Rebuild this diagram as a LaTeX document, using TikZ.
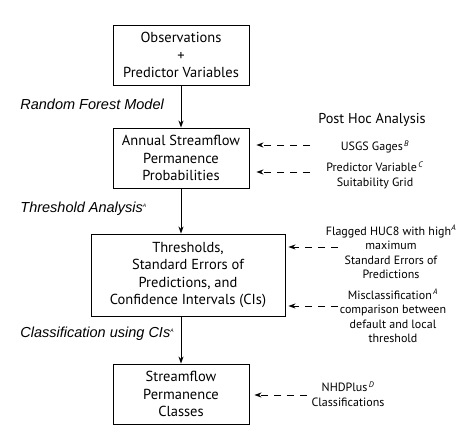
\documentclass[tikz,border=0pt]{standalone}
\usepackage{fontspec}
\setmainfont{PT Sans}
\newfontfamily\labelfont{Liberation Sans}
\usetikzlibrary{arrows.meta}
\newcommand{\supmark}[1]{\textsuperscript{\,\textit{#1}}}

\begin{document}
\begin{tikzpicture}
[ x=1pt, y=-1pt, thick
, stepbox/.style={rectangle, draw, line width=0.9pt, align=center, font=\fontsize{14.5}{17.6}\selectfont, inner sep=0pt}
, method/.style={anchor=west, font=\labelfont\itshape\fontsize{14.5}{16}\selectfont, inner sep=0pt}
, note/.style={align=center, font=\fontsize{12}{14.5}\selectfont, inner sep=0pt}
, flow/.style={-{Stealth[length=7pt,width=5pt]}, line width=0.9pt}
, check/.style={-{Stealth[length=7pt,width=5pt]}, line width=0.8pt, dash pattern=on 7pt off 6pt}
]
\useasboundingbox (0,0) rectangle (471,434);
% Main chain of boxes
\node (obs) [stepbox, minimum width=136pt, minimum height=60pt] at (181,55) {Observations\\+\\Predictor Variables};
\node (prob) [stepbox, minimum width=136pt, minimum height=60pt] at (181,158) {Annual Streamflow\\Permanence\\Probabilities};
\node (thr) [stepbox, minimum width=194pt, minimum height=82pt] at (188,275) {Thresholds,\\Standard Errors of\\Predictions, and\\Confidence Intervals (CIs)};
\node (cls) [stepbox, minimum width=136pt, minimum height=60pt] at (181,394) {Streamflow\\Permanence\\Classes};
% Method labels
\node (rfm) [method] at (20,104) {Random Forest Model};
\node (tha) [method] at (20,209) {Threshold Analysis\textsuperscript{\tiny A}};
\node (cci) [method] at (20,334) {Classification using CIs\textsuperscript{\tiny A}};
% Post hoc notes
\node (post) [note, font=\fontsize{14.3}{16}\selectfont] at (372,120) {Post Hoc Analysis};
\node (usgs) [note] at (375,147) {USGS Gages\supmark{B}};
\node (grid) [note] at (375,175) {Predictor Variable\supmark{C}\\Suitability Grid};
\node (huc) [note] at (391,252) {Flagged HUC8 with high\textsuperscript{\textit{A}}\\maximum\\Standard Errors of\\Predictions};
\node (mis) [note] at (393,316) {Misclassification\supmark{A}\\comparison between\\default and local\\threshold};
\node (nhd) [note] at (348,394) {NHDPlus\supmark{D}\\Classifications};
% free ends of the dashed connectors
\coordinate (usgs-e) at (310,145);
\coordinate (grid-e) at (310,172);
\coordinate (huc-e) at (338,247);
\coordinate (mis-e) at (338,306);
\coordinate (nhd-e) at (307,395);
\draw [flow] (obs) -- (prob);
\draw [flow] (prob) -- (prob |- thr.north);
\draw [flow] (prob |- thr.south) -- (cls);
\draw [check] (usgs-e) -- ([xshift=7pt]usgs-e -| prob.east);
\draw [check] (grid-e) -- ([xshift=7pt]grid-e -| prob.east);
\draw [check] (huc-e) -- ([xshift=3pt]huc-e -| thr.east);
\draw [check] (mis-e) -- ([xshift=3pt]mis-e -| thr.east);
\draw [check] (nhd-e) -- ([xshift=5pt]nhd-e -| cls.east);
\end{tikzpicture}
\end{document}
